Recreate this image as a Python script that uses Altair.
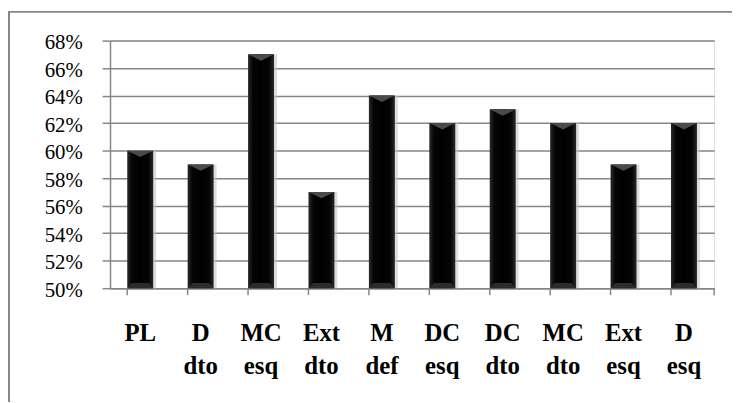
import altair as alt
import pandas as pd

categories = ["PL", "D dto", "MC esq", "Ext dto", "M def", "DC esq", "DC dto", "MC dto", "Ext esq", "D esq"]
values = [0.60, 0.59, 0.67, 0.57, 0.64, 0.62, 0.63, 0.62, 0.59, 0.62]
y_ticks = [0.50, 0.52, 0.54, 0.56, 0.58, 0.60, 0.62, 0.64, 0.66, 0.68]

df = pd.DataFrame({"cat": categories, "val": values, "base": [0.5] * len(categories)})

W, H = 610, 250
GRAY = "#868686"
FONT = "Times New Roman, Liberation Serif, DejaVu Serif"

xscale = alt.Scale(domain=categories, paddingInner=0.57, paddingOuter=0.285)
yscale = alt.Scale(domain=[0.5, 0.68], zero=False, nice=False)

x_ax = alt.Axis(
    title=None, labelAngle=0, labelExpr="split(datum.label, ' ')",
    labelFont=FONT, labelFontWeight="bold", labelFontSize=25,
    labelLineHeight=33, labelColor="black", labelPadding=33,
    labelOverlap=False,
    ticks=False, tickSize=0, domainColor=GRAY, domainWidth=1.5, grid=False,
)
y_ax = alt.Axis(
    title=None, values=y_ticks, format=".0%", labelOverlap=False,
    labelFont=FONT, labelFontSize=21, labelColor="black",
    labelPadding=20, labelOffset=2, tickSize=8, tickColor=GRAY, tickWidth=1.5,
    domainColor=GRAY, domainWidth=1.5, gridColor=GRAY, gridWidth=1.5,
)

x_enc = alt.X("cat:N", sort=categories, scale=xscale, axis=x_ax)
y_enc = alt.Y("val:Q", scale=yscale, axis=y_ax)

base = alt.Chart(df)

shadow = base.mark_bar(color="#c8c8c8", opacity=0.6, xOffset=3).encode(
    x=x_enc, y=y_enc, y2="base:Q"
)

bars = base.mark_bar(
    color=alt.Gradient(
        gradient="linear",
        stops=[
            alt.GradientStop(color="#2a2a2a", offset=0),
            alt.GradientStop(color="#050505", offset=0.18),
            alt.GradientStop(color="#000000", offset=0.5),
            alt.GradientStop(color="#050505", offset=0.82),
            alt.GradientStop(color="#2a2a2a", offset=1),
        ],
        x1=0, x2=1, y1=0, y2=0,
    )
).encode(x=x_enc, y=y_enc, y2="base:Q")

top_bevel = base.mark_point(
    shape="M-1,0L1,0L0,0.5Z", size=676, filled=True, color="#4a4a4a", opacity=1
).encode(x=x_enc, y=y_enc)

bottom_bevel = base.mark_point(
    shape="M-1,0L1,0L0.65,-0.4L-0.65,-0.4Z", size=676, filled=True, color="#2c2c2c", opacity=1
).encode(x=x_enc, y=alt.Y("base:Q", scale=yscale, axis=y_ax))

ticks = base.mark_rule(color=GRAY, strokeWidth=1.5).encode(
    x=alt.X("cat:N", sort=categories, scale=xscale, bandPosition=0, axis=x_ax),
    y=alt.value(H), y2=alt.value(H + 7),
)
end_tick = alt.Chart(alt.Data(values=[{}])).mark_rule(color=GRAY, strokeWidth=1.5).encode(
    x=alt.value(W), y=alt.value(H), y2=alt.value(H + 7)
)

border = alt.Chart(alt.Data(values=[{}])).mark_rect(
    fillOpacity=0, stroke="#878787", strokeWidth=2
).encode(
    x=alt.value(-102), x2=alt.value(W + 200), y=alt.value(-29), y2=alt.value(H + 300)
)

chart = alt.layer(shadow, bars, top_bevel, bottom_bevel, ticks, end_tick, border).properties(
    width=W, height=H,
    autosize=alt.AutoSizeParams(type="none"),
    padding={"left": 103, "top": 31, "right": 18, "bottom": 113},
).configure_view(stroke=None).configure_axis(
    labelFont=FONT, labelColor="black", labelOverlap=False
).configure(font=FONT)

chart.save("out.html", embed_options={"renderer": "svg", "actions": False})
